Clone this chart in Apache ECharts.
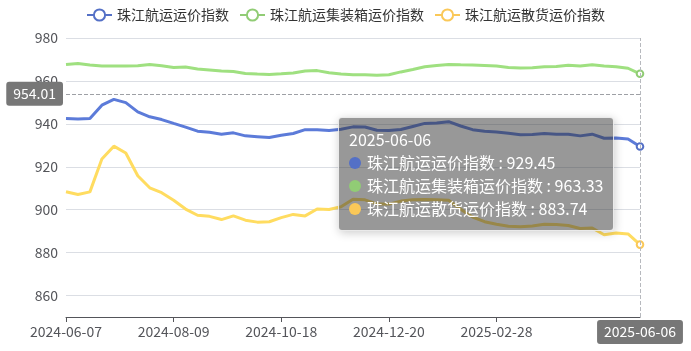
<!DOCTYPE html>
<html>
<head>
<meta charset="utf-8">
<script src="https://cdn.jsdelivr.net/npm/echarts@6/dist/echarts.min.js"></script>
<style>
  html, body { margin: 0; padding: 0; background: #fff; }
  #main { width: 691px; height: 351px; }
</style>
</head>
<body>
<div id="main"></div>
<script>
const dates = [
  '2024-06-07', '2024-06-14', '2024-06-21', '2024-06-28', '2024-07-05', '2024-07-12', '2024-07-19',
  '2024-07-26', '2024-08-02', '2024-08-09', '2024-08-16', '2024-08-23', '2024-08-30', '2024-09-06',
  '2024-09-13', '2024-09-20', '2024-09-27', '2024-10-11', '2024-10-18', '2024-10-25', '2024-11-01',
  '2024-11-08', '2024-11-15', '2024-11-22', '2024-11-29', '2024-12-06', '2024-12-13', '2024-12-20',
  '2024-12-27', '2025-01-03', '2025-01-10', '2025-01-17', '2025-01-24', '2025-02-07', '2025-02-14',
  '2025-02-21', '2025-02-28', '2025-03-07', '2025-03-14', '2025-03-21', '2025-03-28', '2025-04-11',
  '2025-04-18', '2025-04-25', '2025-05-09', '2025-05-16', '2025-05-23', '2025-05-30', '2025-06-06'
];

const freightIndex = [
  942.5, 942.3, 942.5, 948.7, 951.4, 949.9, 945.6, 943.3, 942.0, 940.2,
  938.5, 936.6, 936.1, 935.2, 935.8, 934.4, 934.0, 933.6, 934.7, 935.5,
  937.3, 937.3, 936.9, 937.5, 938.6, 938.5, 937.0, 936.9, 937.4, 938.8,
  940.2, 940.4, 941.0, 939.0, 937.3, 936.6, 936.2, 935.6, 934.9, 935.0,
  935.5, 935.2, 935.2, 934.4, 935.2, 933.3, 933.4, 932.9, 929.45
];

const containerIndex = [
  967.6, 968.1, 967.4, 966.9, 967.0, 966.9, 967.1, 967.6, 967.1, 966.3,
  966.5, 965.6, 965.1, 964.6, 964.4, 963.5, 963.2, 963.0, 963.3, 963.7,
  964.6, 964.8, 963.8, 963.2, 962.9, 962.9, 962.6, 962.9, 964.2, 965.3,
  966.6, 967.2, 967.7, 967.5, 967.4, 967.2, 966.9, 966.3, 966.0, 966.1,
  966.6, 966.7, 967.3, 966.9, 967.5, 966.9, 966.6, 965.9, 963.33
];

const bulkIndex = [
  908.4, 907.1, 908.3, 923.6, 929.6, 926.4, 915.8, 910.2, 907.9, 904.4,
  900.3, 897.4, 896.9, 895.4, 897.1, 895.1, 894.2, 894.4, 896.3, 897.8,
  897.1, 900.3, 900.1, 901.4, 904.9, 904.6, 902.7, 902.6, 904.0, 904.6,
  904.8, 904.6, 904.4, 900.2, 896.6, 894.4, 893.2, 892.3, 892.1, 892.4,
  893.2, 893.1, 892.6, 891.2, 891.5, 888.3, 889.1, 888.7, 883.74
];

const seriesNames = ['珠江航运运价指数', '珠江航运集装箱运价指数', '珠江航运散货运价指数'];
const colors = ['#5470c6', '#91cc75', '#fac858'];

const chart = echarts.init(document.getElementById('main'));

const makeLine = (name, data) => ({
  name: name,
  type: 'line',
  data: data,
  showSymbol: false,
  symbol: 'emptyCircle',
  symbolSize: 6,
  lineStyle: { width: 3 },
});

chart.setOption({
  animation: false,
  color: colors,
  textStyle: { fontFamily: "'Noto Sans CJK SC', 'Noto Sans', sans-serif" },
  legend: {
    top: 3,
    itemGap: 10,
    textStyle: { color: '#333', fontSize: 14 },
    data: seriesNames,
  },
  tooltip: {
    trigger: 'axis',
    axisPointer: {
      type: 'cross',
      label: { backgroundColor: '#777', fontSize: 14 },
    },
    position: [338, 117],
    backgroundColor: 'rgba(50,50,50,0.5)',
    borderColor: 'rgba(255,255,255,0.8)',
    borderWidth: 1,
    padding: [10, 10],
    textStyle: { color: '#fff', fontSize: 16 },
    formatter: (params) => {
      let s = '<div style="line-height:23px">' + params[0].axisValue + '</div>';
      params.forEach((p) => {
        s += '<div style="line-height:23px"><span style="display:inline-block;width:12px;height:12px;border-radius:6px;margin-right:6px;background:' +
          p.color + '"></span>' + p.seriesName + ' : ' + p.value + '</div>';
      });
      return s;
    },
  },
  grid: {
    left: 66,
    right: 51,
    top: 38,
    bottom: 34,
  },
  xAxis: {
    type: 'category',
    boundaryGap: false,
    data: dates,
    axisLabel: {
      fontSize: 14,
      interval: (i) => i % 9 === 0 && i <= 36,
    },
  },
  yAxis: {
    type: 'value',
    min: 850,
    max: 980,
    splitNumber: 7,
    axisLabel: { fontSize: 14, showMinLabel: false },
    axisPointer: { label: { precision: 2 } },
  },
  series: [
    makeLine(seriesNames[0], freightIndex),
    makeLine(seriesNames[1], containerIndex),
    makeLine(seriesNames[2], bulkIndex),
  ],
});

const px = chart.convertToPixel({ xAxisIndex: 0 }, dates.length - 1);
const py = chart.convertToPixel({ yAxisIndex: 0 }, 954.01);
chart.dispatchAction({ type: 'showTip', x: px - 0.5, y: py });
</script>
</body>
</html>
